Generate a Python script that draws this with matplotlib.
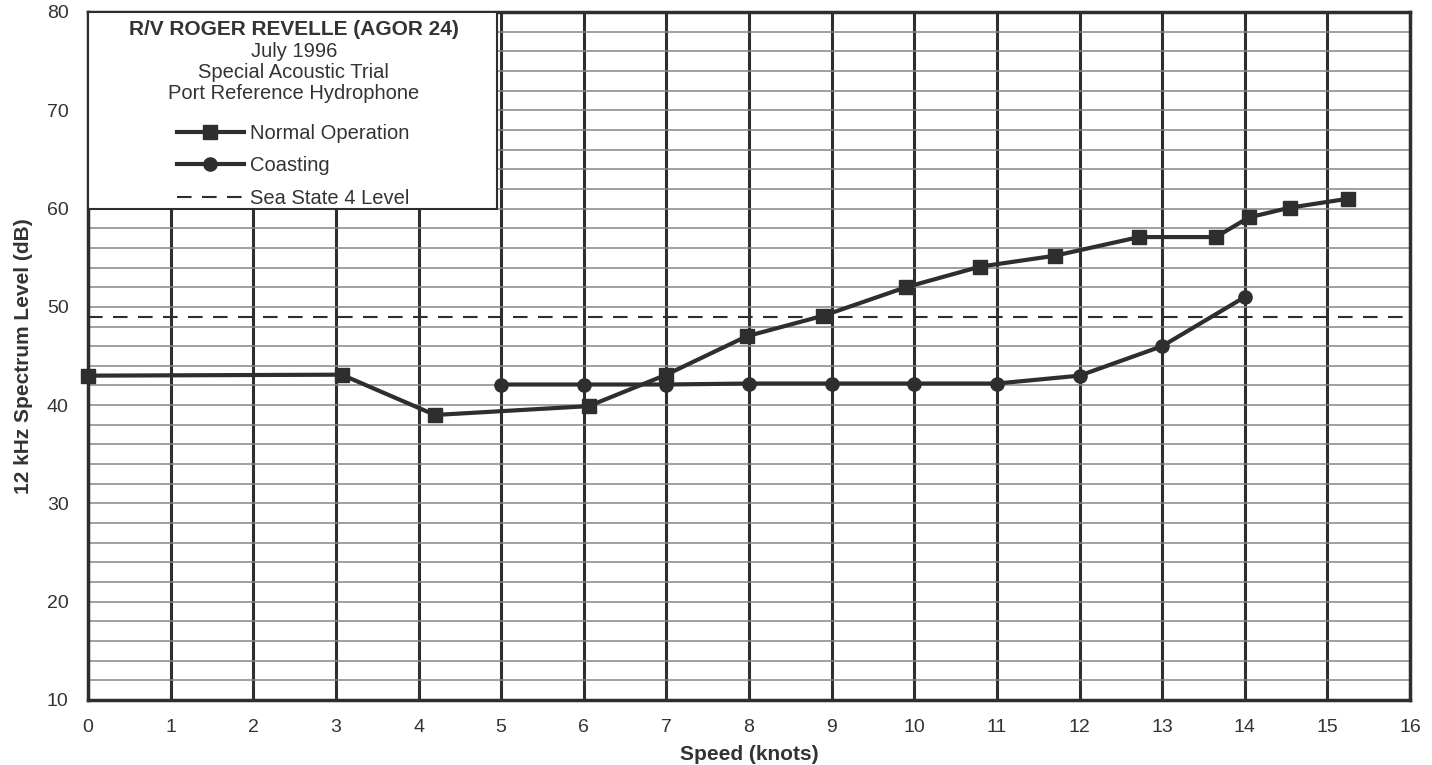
import matplotlib
matplotlib.use("Agg")
import matplotlib.pyplot as plt
from matplotlib.patches import Rectangle
from matplotlib.ticker import MultipleLocator

plt.rcParams['font.family'] = ['Liberation Sans', 'DejaVu Sans']

# speed (knots) vs 12 kHz spectrum level (dB)
normal_speed = [0, 3.07, 4.2, 6.06, 7.0, 7.97, 8.9, 9.9, 10.8, 11.7, 12.72, 13.65, 14.05, 14.55, 15.25]
normal_level = [43.0, 43.1, 39.0, 39.9, 43.1, 47.0, 49.1, 52.0, 54.1, 55.2, 57.1, 57.1, 59.1, 60.1, 61.0]

coast_speed = [5, 6, 7, 8, 9, 10, 11, 12, 13, 14]
coast_level = [42.1, 42.1, 42.1, 42.2, 42.2, 42.2, 42.2, 43.0, 46.0, 51.0]

sea_state4 = 49.0

title_lines = ["R/V ROGER REVELLE (AGOR 24)", "July 1996",
               "Special Acoustic Trial", "Port Reference Hydrophone"]

ink = '#2e2e2e'
text_col = '#333333'

fig = plt.figure(figsize=(14.32, 7.65), dpi=100)
ax = fig.add_axes([88 / 1432, 1 - 700 / 765, (1410 - 88) / 1432, (700 - 12) / 765])

ax.set_xlim(0, 16)
ax.set_ylim(10, 80)
ax.xaxis.set_major_locator(MultipleLocator(1))
ax.yaxis.set_major_locator(MultipleLocator(10))
ax.yaxis.set_minor_locator(MultipleLocator(2))

# grid: heavy verticals every knot, light horizontals every 2 dB
ax.grid(axis='x', which='major', color=ink, lw=2.2, zorder=1)
ax.grid(axis='y', which='both', color='#858585', lw=1.1, zorder=1)
ax.set_axisbelow(True)

ax.tick_params(which='both', length=0, labelsize=14, labelcolor=text_col)
ax.tick_params(axis='x', pad=14)
ax.tick_params(axis='y', pad=14)
for sp in ax.spines.values():
    sp.set_linewidth(2.5)
    sp.set_color(ink)

ax.plot(normal_speed, normal_level, color=ink, lw=3, marker='s', ms=10.5,
        label='Normal Operation', zorder=4, clip_on=False)
ax.plot(coast_speed, coast_level, color=ink, lw=3, marker='o', ms=9.5,
        label='Coasting', zorder=4, clip_on=False)
ax.axhline(sea_state4, color=ink, lw=1.5, ls=(0, (7, 5)),
           label='Sea State 4 Level', zorder=3)

# boxed title / key in the upper-left corner
box = Rectangle((0, 60), 4.95, 20, facecolor='white', edgecolor=ink,
                lw=1.5, zorder=3)
ax.add_patch(box)

ax.text(2.49, 78.2, title_lines[0], ha='center', va='center', fontsize=15,
        fontweight='bold', color=text_col, zorder=5)
for i, line in enumerate(title_lines[1:]):
    ax.text(2.49, 76.0 - 2.15 * i, line, ha='center', va='center',
            fontsize=14.5, color=text_col, zorder=5)

leg = ax.legend(loc='upper left', bbox_to_anchor=(1.08 / 16, (68.65 - 10) / 70),
                frameon=False, fontsize=14.5, handlelength=3.3, handletextpad=0.3,
                labelspacing=0.68, borderaxespad=0, borderpad=0)
for t in leg.get_texts():
    t.set_color(text_col)
leg.set_zorder(6)

ax.set_xlabel('Speed (knots)', fontsize=15, fontweight='bold', color=text_col, labelpad=6)
ax.set_ylabel('12 kHz Spectrum Level (dB)', fontsize=15, fontweight='bold',
              color=text_col, labelpad=10)

fig.savefig('out.png', dpi=100, facecolor='white')
